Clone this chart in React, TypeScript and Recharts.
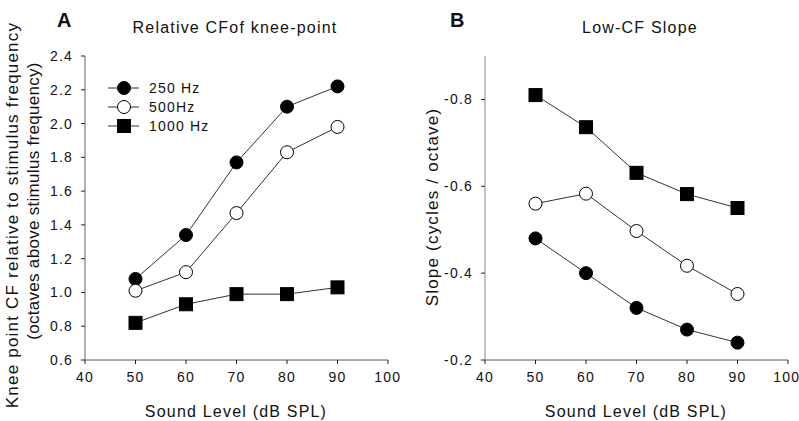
import React from 'react';
import { LineChart, Line, XAxis, YAxis } from 'recharts';

const levels = [50, 60, 70, 80, 90];
const knee250 = [1.08, 1.34, 1.77, 2.1, 2.22];
const knee500 = [1.01, 1.12, 1.47, 1.83, 1.98];
const knee1000 = [0.82, 0.93, 0.99, 0.99, 1.03];
const slope250 = [-0.48, -0.4, -0.32, -0.27, -0.24];
const slope500 = [-0.56, -0.583, -0.497, -0.417, -0.352];
const slope1000 = [-0.81, -0.736, -0.631, -0.582, -0.55];
const xTicks = [40, 50, 60, 70, 80, 90, 100];
const yTicksA = [0.6, 0.8, 1.0, 1.2, 1.4, 1.6, 1.8, 2.0, 2.2, 2.4];
const yTicksB = [-0.8, -0.6, -0.4, -0.2];
const seriesNames = ['250 Hz', '500Hz', '1000 Hz'];

const dataA = levels.map((x, i) => ({ x, s250: knee250[i], s500: knee500[i], s1000: knee1000[i] }));
const dataB = levels.map((x, i) => ({ x, s250: slope250[i], s500: slope500[i], s1000: slope1000[i] }));

const FONT = '"Liberation Sans", Arial, sans-serif';
const kinds = ['filled', 'open', 'square'];

const marker = (kind: string, cx: number, cy: number, key?: any) => {
  if (kind === 'square') {
    return <rect key={key} x={cx - 6.5} y={cy - 6.5} width={13} height={13} fill="#000" stroke="#000" strokeWidth={1} />;
  }
  return <circle key={key} cx={cx} cy={cy} r={6.5} fill={kind === 'filled' ? '#000' : '#fff'} stroke="#000" strokeWidth={1} />;
};

const dotFn = (kind: string) => (props: any) => marker(kind, props.cx, props.cy, props.index);

const tickStyle = { fontSize: 14, fill: '#111', fontFamily: FONT, letterSpacing: 1.2 };

const Frame = ({ domain, ticks, reversed, isA }: any) => [
  <XAxis key="xb" xAxisId={0} type="number" dataKey="x" domain={[40, 100]} ticks={xTicks} tick={tickStyle}
    tickSize={4} tickMargin={8} stroke="#555" tickLine={{ stroke: '#222' }} height={30} />,
  <XAxis key="xt" xAxisId="top" orientation="top" type="number" dataKey="x" domain={[40, 100]} tick={false}
    tickLine={false} height={0} stroke="#999" />,
  <YAxis key="yl" yAxisId={0} type="number" domain={domain} ticks={ticks} reversed={reversed} tick={tickStyle}
    tickSize={4} tickMargin={8} stroke={isA ? '#666' : '#888'} tickLine={{ stroke: '#222' }} width={85}
    tickFormatter={(v: number) => v.toFixed(1)} allowDataOverflow />,
  <YAxis key="yr" yAxisId="right" orientation="right" type="number" domain={domain} tick={false}
    tickLine={false} width={0} stroke="#999" />,
];

const series = () =>
  ['s250', 's500', 's1000'].map((k, i) => (
    <Line key={k} dataKey={k} xAxisId={0} yAxisId={0} stroke="#333" strokeWidth={1}
      dot={dotFn(kinds[i])} activeDot={false} isAnimationActive={false} legendType="none" />
  ));

export default function App() {
  return (
    <div style={{ position: 'absolute', left: 0, top: 0, width: 799, height: 421, background: '#fff' }}>
      <div style={{ position: 'absolute', left: 0, top: 0 }}>
        <LineChart width={400} height={421} data={dataA} margin={{ top: 56, right: 12, bottom: 31, left: 0 }}>
          {Frame({ domain: [0.6, 2.4], ticks: yTicksA, reversed: false, isA: true })}
          {series()}
        </LineChart>
      </div>
      <div style={{ position: 'absolute', left: 400, top: 0 }}>
        <LineChart width={399} height={421} data={dataB} margin={{ top: 56, right: 11, bottom: 31, left: 0 }}>
          {Frame({ domain: [-0.9, -0.2], ticks: yTicksB, reversed: true, isA: false })}
          {series()}
        </LineChart>
      </div>
      <svg width={799} height={421} style={{ position: 'absolute', left: 0, top: 0, pointerEvents: 'none' }}
        fontFamily={FONT} fill="#111">
        <g transform="translate(107,88)">
          {seriesNames.map((n, i) => {
            const y = i * 19;
            return (
              <g key={n}>
                <line x1={1} x2={32} y1={y} y2={y} stroke="#333" strokeWidth={1} />
                {marker(kinds[i], 17, y)}
                <text x={42} y={y + 5} fontSize={14} letterSpacing={1.2} fill="#111">{n}</text>
              </g>
            );
          })}
        </g>
        <text x={57} y={27} fontSize={20} fontWeight="bold">A</text>
        <text x={450} y={27} fontSize={20} fontWeight="bold">B</text>
        <text x={235} y={33} fontSize={16} textAnchor="middle" letterSpacing={1.2}>Relative CFof knee-point</text>
        <text x={640} y={33} fontSize={16} textAnchor="middle" letterSpacing={1.2}>Low-CF Slope</text>
        <text x={236} y={417} fontSize={16} textAnchor="middle" letterSpacing={1.2}>Sound Level (dB SPL)</text>
        <text x={636} y={417} fontSize={16} textAnchor="middle" letterSpacing={1.2}>Sound Level (dB SPL)</text>
        <text transform="translate(18,215) rotate(-90)" fontSize={17} textAnchor="middle" letterSpacing={1.2}>
          Knee point CF relative to stimulus frequency
        </text>
        <text transform="translate(39,201) rotate(-90)" fontSize={17} textAnchor="middle" letterSpacing={0.3}>
          (octaves above stimulus frequency)
        </text>
        <text transform="translate(438,207) rotate(-90)" fontSize={17} textAnchor="middle" letterSpacing={1.2}>
          Slope (cycles / octave)
        </text>
      </svg>
    </div>
  );
}
